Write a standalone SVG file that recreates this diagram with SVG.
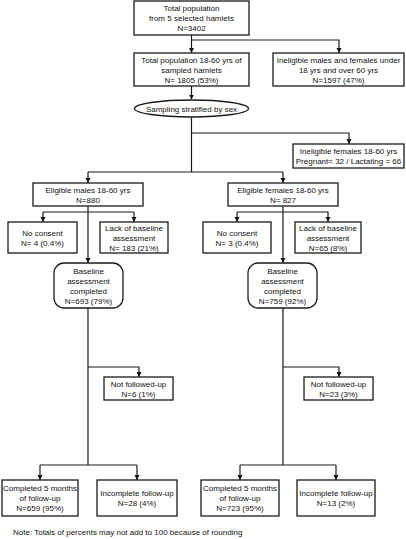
<svg xmlns="http://www.w3.org/2000/svg" width="406" height="539" viewBox="0 0 406 539">
<defs>
<style>
.b{fill:#fff;stroke:#1a1a1a;stroke-width:1.3}
.c{fill:none;stroke:#1a1a1a;stroke-width:1.2}
text{font-family:"Liberation Sans",Arial,sans-serif;font-size:8px;fill:#111;text-anchor:middle}
</style>
<marker id="ah" viewBox="0 0 10 10" refX="10" refY="5" markerWidth="5" markerHeight="6" orient="auto" markerUnits="userSpaceOnUse"><path d="M0,0 L10,5 L0,10 z" fill="#111"/></marker>
</defs>
<rect width="406" height="539" fill="#fff"/>
<g id="connectors">
<path class="c" d="M191.5,35 V53" marker-end="url(#ah)"/>
<path class="c" d="M191.5,40 H339 V53" marker-end="url(#ah)"/>
<path class="c" d="M191.5,86 V99.5" marker-end="url(#ah)"/>
<path class="c" d="M191.5,117 V172"/>
<path class="c" d="M191.5,133 H349 V144" marker-end="url(#ah)"/>
<path class="c" d="M88,172 H283"/>
<path class="c" d="M88,172 V183" marker-end="url(#ah)"/>
<path class="c" d="M283,172 V183" marker-end="url(#ah)"/>
<path class="c" d="M88,206 V263" marker-end="url(#ah)"/>
<path class="c" d="M43,212 H134"/>
<path class="c" d="M43,212 V222" marker-end="url(#ah)"/>
<path class="c" d="M134,212 V222" marker-end="url(#ah)"/>
<path class="c" d="M283,206 V263" marker-end="url(#ah)"/>
<path class="c" d="M237,212 V222" marker-end="url(#ah)"/>
<path class="c" d="M237,212 H328 V222" marker-end="url(#ah)"/>
<path class="c" d="M88,308 V465"/>
<path class="c" d="M88,367 H139 V377" marker-end="url(#ah)"/>
<path class="c" d="M40,465 H137"/>
<path class="c" d="M40,465 V480" marker-end="url(#ah)"/>
<path class="c" d="M137,465 V480" marker-end="url(#ah)"/>
<path class="c" d="M283,308 V465"/>
<path class="c" d="M283,367 H339 V377" marker-end="url(#ah)"/>
<path class="c" d="M240,465 H336"/>
<path class="c" d="M240,465 V480" marker-end="url(#ah)"/>
<path class="c" d="M336,465 V480" marker-end="url(#ah)"/>
</g>
<g id="n_total">
<rect class="b" x="134" y="1" width="115" height="34"/>
<text x="191.5" y="11">Total population</text>
<text x="191.5" y="21">from 5 selected hamlets</text>
<text x="191.5" y="31">N=3402</text>
</g>
<g id="n_pop1860">
<rect class="b" x="134" y="53" width="115" height="33"/>
<text x="191.5" y="62.5">Total population 18-60 yrs of</text>
<text x="191.5" y="72.5">sampled hamlets</text>
<text x="191.5" y="82.5">N= 1805 (53%)</text>
</g>
<g id="n_inelig_age">
<rect class="b" x="273" y="53" width="131" height="33"/>
<text x="338.5" y="62.5">Ineligible males and females under</text>
<text x="338.5" y="72.5">18 yrs and over 60 yrs</text>
<text x="338.5" y="82.5">N=1597 (47%)</text>
</g>
<g id="n_sampling">
<ellipse class="b" cx="191.5" cy="108.5" rx="57" ry="8.5"/>
<text x="191.5" y="111.5">Sampling stratified by sex</text>
</g>
<g id="n_inelig_fem">
<rect class="b" x="293" y="144" width="111" height="24"/>
<text x="348.5" y="154">Ineligible females 18-60 yrs</text>
<text x="348.5" y="164">Pregnant= 32 / Lactating = 66</text>
</g>
<g id="n_elig_m">
<rect class="b" x="33" y="183" width="110" height="23"/>
<text x="88" y="192.5">Eligible males 18-60 yrs</text>
<text x="88" y="202.5">N=880</text>
</g>
<g id="n_elig_f">
<rect class="b" x="228" y="183" width="110" height="23"/>
<text x="283" y="192.5">Eligible females 18-60 yrs</text>
<text x="283" y="202.5">N= 827</text>
</g>
<g id="n_nocons_m">
<rect class="b" x="8" y="222" width="69" height="31"/>
<text x="42.5" y="235.5">No consent</text>
<text x="42.5" y="245.5">N= 4 (0.4%)</text>
</g>
<g id="n_lack_m">
<rect class="b" x="100" y="222" width="68" height="31"/>
<text x="134" y="230.5">Lack of baseline</text>
<text x="134" y="240.5">assessment</text>
<text x="134" y="250.5">N= 183 (21%)</text>
</g>
<g id="n_nocons_f">
<rect class="b" x="203" y="222" width="68" height="31"/>
<text x="237" y="235.5">No consent</text>
<text x="237" y="245.5">N= 3 (0.4%)</text>
</g>
<g id="n_lack_f">
<rect class="b" x="295" y="222" width="66" height="31"/>
<text x="328" y="230.5">Lack of baseline</text>
<text x="328" y="240.5">assessment</text>
<text x="328" y="250.5">N=65 (8%)</text>
</g>
<g id="n_base_m">
<rect class="b" x="54" y="263" width="69" height="45" rx="10"/>
<text x="88.5" y="273.5">Baseline</text>
<text x="88.5" y="283.5">assessment</text>
<text x="88.5" y="293.5">completed</text>
<text x="88.5" y="303.5">N=693 (79%)</text>
</g>
<g id="n_base_f">
<rect class="b" x="248" y="263" width="69" height="45" rx="10"/>
<text x="282.5" y="273.5">Baseline</text>
<text x="282.5" y="283.5">assessment</text>
<text x="282.5" y="293.5">completed</text>
<text x="282.5" y="303.5">N=759 (92%)</text>
</g>
<g id="n_notfu_m">
<rect class="b" x="104" y="377" width="69" height="23"/>
<text x="138.5" y="386.5">Not followed-up</text>
<text x="138.5" y="396.5">N=6 (1%)</text>
</g>
<g id="n_notfu_f">
<rect class="b" x="304" y="377" width="69" height="23"/>
<text x="338.5" y="386.5">Not followed-up</text>
<text x="338.5" y="396.5">N=23 (3%)</text>
</g>
<g id="n_comp_m">
<rect class="b" x="2" y="480" width="76" height="36"/>
<text x="40" y="491">Completed 5 months</text>
<text x="40" y="501">of follow-up</text>
<text x="40" y="511">N=659 (95%)</text>
</g>
<g id="n_inc_m">
<rect class="b" x="97" y="480" width="80" height="36"/>
<text x="137" y="496">Incomplete follow-up</text>
<text x="137" y="506">N=28 (4%)</text>
</g>
<g id="n_comp_f">
<rect class="b" x="201" y="480" width="78" height="36"/>
<text x="240" y="491">Completed 5 months</text>
<text x="240" y="501">of follow-up</text>
<text x="240" y="511">N=723 (95%)</text>
</g>
<g id="n_inc_f">
<rect class="b" x="297" y="480" width="78" height="36"/>
<text x="336" y="496">Incomplete follow-up</text>
<text x="336" y="506">N=13 (2%)</text>
</g>
<text x="13" y="535" style="text-anchor:start">Note: Totals of percents may not add to 100 because of rounding</text>
</svg>
